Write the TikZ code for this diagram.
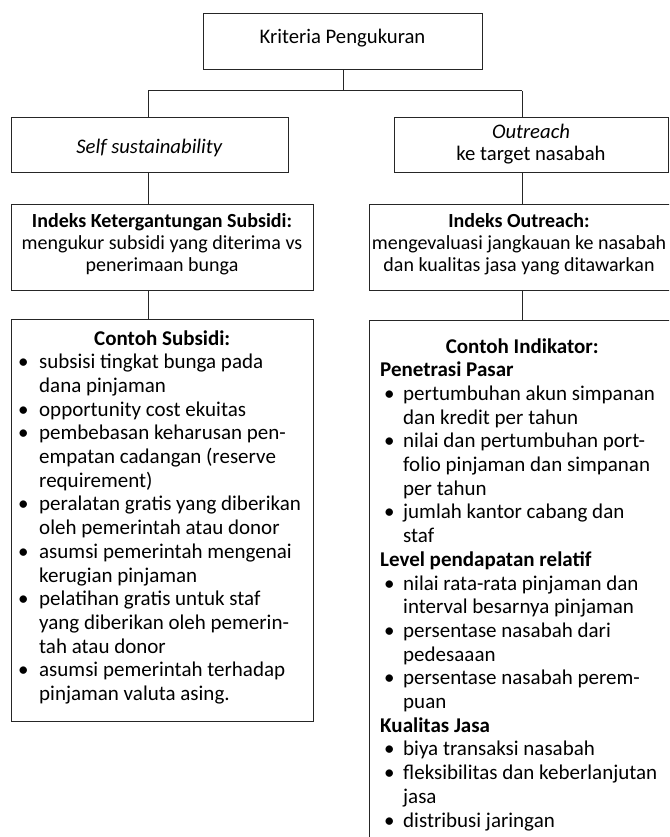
\documentclass[tikz,border=0pt]{standalone}
\usepackage{fontspec}
\setmainfont{Carlito}
\newdimen\linew
\newdimen\bulw
\newdimen\bulo
\newcommand\fs{\fontsize{20.7}{23.7}\selectfont}
\newcommand\fsm{\fontsize{20}{22}\selectfont}
\newcommand\fsl{\fontsize{21}{23.7}\selectfont}
\newcommand\stack[3]{\vtop{\linew=#1\relax\baselineskip=#2\relax\lineskiplimit=-100pt\relax\lineskip=0pt\relax #3}}
\newcommand\lnC[1]{\hbox to \linew{\hfil#1\hfil}}
\newcommand\lnB[1]{\hbox{\makebox[\bulw][l]{\hspace*{\bulo}\textbullet}#1}}
\newcommand\lnI[1]{\hbox{\hspace*{\bulw}#1}}
\newcommand\lnP[1]{\hbox{#1}}
\tikzset{
  box/.style={draw=black!85, line width=1pt, rectangle, inner sep=0pt, anchor=north west},
  conn/.style={draw=black!85, line width=1pt},
  txt/.style={inner sep=0pt, anchor=base west, font=\fsl},
  ctxt/.style={inner sep=0pt, anchor=base, font=\fs},
  mtxt/.style={inner sep=0pt, anchor=base, font=\fsm},
}
\begin{document}
\begin{tikzpicture}[x=1pt,y=1pt]
\useasboundingbox (0,0) rectangle (669,-837);
% boxes
\node[box, minimum width=279pt, minimum height=56pt] (top) at (203,-13) {};
\node[box, minimum width=277pt, minimum height=55pt] (ss) at (11,-117) {};
\node[box, minimum width=274pt, minimum height=55pt] (ot) at (394,-117) {};
\node[box, minimum width=302pt, minimum height=86pt] (iks) at (11,-204) {};
\node[box, minimum width=302pt, minimum height=402pt] (cs) at (11,-319) {};
\begin{scope}
\clip (0,0) rectangle (669,-837);
\node[box, minimum width=303pt, minimum height=86pt] (io) at (369,-204) {};
\node[box, minimum width=303pt, minimum height=540pt] (ci) at (369,-320) {};
\end{scope}
% connectors
\coordinate (jL) at (148,-91);
\coordinate (jR) at (522,-91);
\draw[conn] (top.south) -- (top.south |- jL);
\draw[conn] (jL) -- (jR);
\draw[conn] (jL) -- (jL |- ss.north);
\draw[conn] (jR) -- (jR |- ot.north);
\draw[conn] (jL |- ss.south) -- (jL |- iks.north);
\draw[conn] (jR |- ot.south) -- (jR |- io.north);
\draw[conn] (jL |- iks.south) -- (jL |- cs.north);
\draw[conn] (jR |- io.south) -- (jR |- ci.north);
% texts
\node[ctxt] (toptxt) at (342.5,-44) {Kriteria Pengukuran};
\node[ctxt] (sstxt) at (149.5,-154) {\textit{Self sustainability}};
\node[ctxt] (ottxt) at (531,-139) {\stack{260pt}{22pt}{\lnC{\textit{Outreach}}\lnC{ke target nasabah}}};
\node[mtxt] (ikstxt) at (162,-227) {\stack{300pt}{22pt}{\lnC{\textbf{Indeks Ketergantungan Subsidi:}}\lnC{mengukur subsidi yang diterima vs}\lnC{penerimaan bunga}}};
\node[mtxt] (iotxt) at (519,-227) {\stack{300pt}{22pt}{\lnC{\textbf{Indeks Outreach:}}\lnC{mengevaluasi jangkauan ke nasabah}\lnC{dan kualitas jasa yang ditawarkan}}};
\node[txt] (cstxt) at (18,-345) {\bulw=21pt\bulo=0pt\stack{288pt}{23.7pt}{%
\lnC{\textbf{Contoh Subsidi:}}
\lnB{subsisi tingkat bunga pada}
\lnI{dana pinjaman}
\lnB{opportunity cost ekuitas}
\lnB{pembebasan keharusan pen-}
\lnI{empatan cadangan (reserve}
\lnI{requirement)}
\lnB{peralatan gratis yang diberikan}
\lnI{oleh pemerintah atau donor}
\lnB{asumsi pemerintah mengenai}
\lnI{kerugian pinjaman}
\lnB{pelatihan gratis untuk staf}
\lnI{yang diberikan oleh pemerin-}
\lnI{tah atau donor}
\lnB{asumsi pemerintah terhadap}
\lnI{pinjaman valuta asing.}}};
\node[txt] (citxt) at (380,-353) {\bulw=23pt\bulo=4pt\stack{284pt}{23.7pt}{%
\lnC{\textbf{Contoh Indikator:}}
\lnP{\textbf{Penetrasi Pasar}}
\lnB{pertumbuhan akun simpanan}
\lnI{dan kredit per tahun}
\lnB{nilai dan pertumbuhan port-}
\lnI{folio pinjaman dan simpanan}
\lnI{per tahun}
\lnB{jumlah kantor cabang dan}
\lnI{staf}
\lnP{\textbf{Level pendapatan relatif}}
\lnB{nilai rata-rata pinjaman dan}
\lnI{interval besarnya pinjaman}
\lnB{persentase nasabah dari}
\lnI{pedesaaan}
\lnB{persentase nasabah perem-}
\lnI{puan}
\lnP{\textbf{Kualitas Jasa}}
\lnB{biya transaksi nasabah}
\lnB{fleksibilitas dan keberlanjutan}
\lnI{jasa}
\lnB{distribusi jaringan}}};
\end{tikzpicture}
\end{document}
